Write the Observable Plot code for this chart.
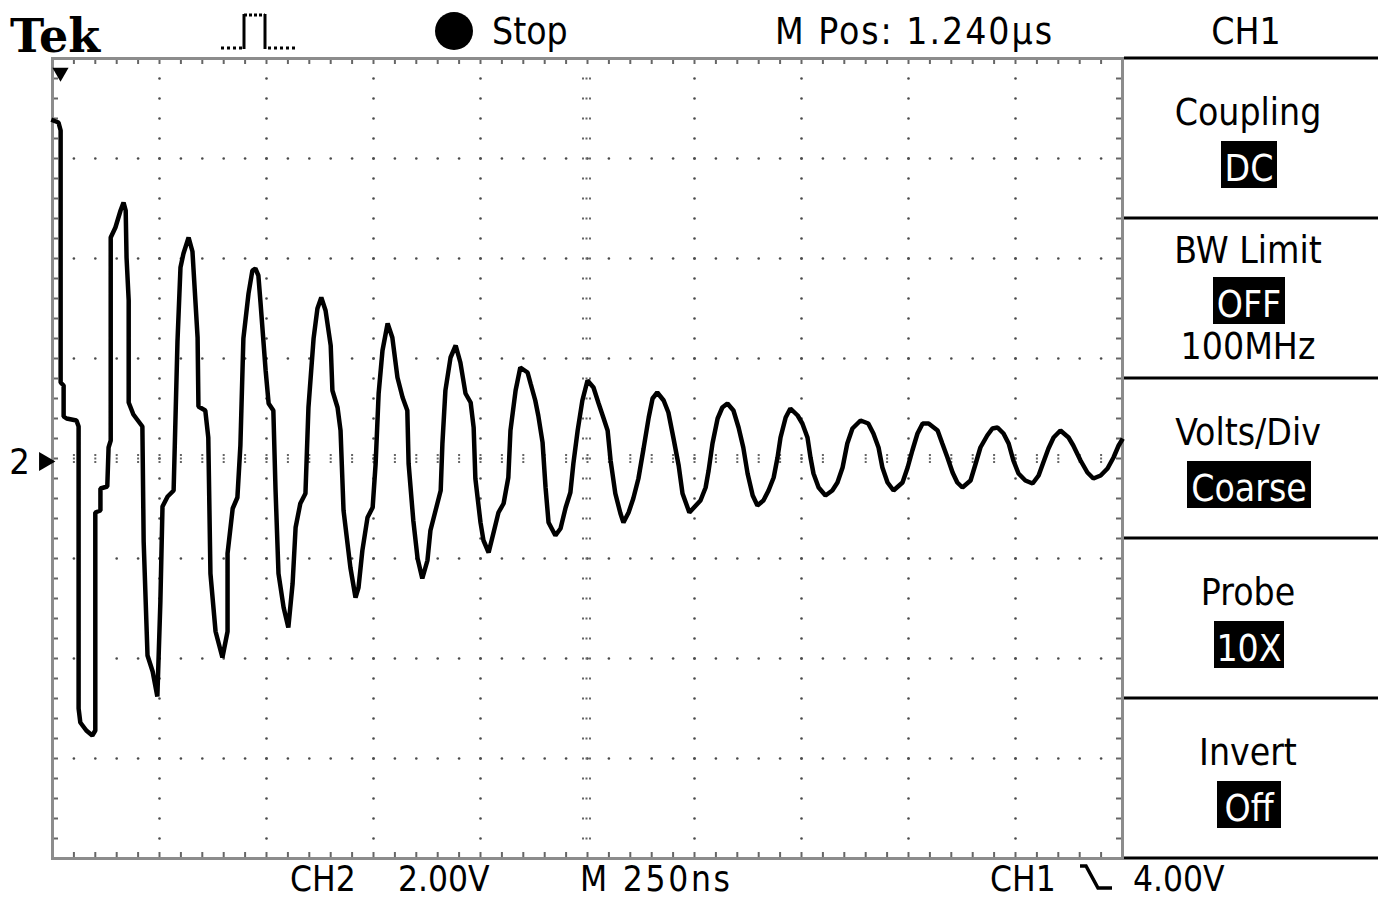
<!DOCTYPE html>
<html><head><meta charset="utf-8">
<script src="https://cdn.jsdelivr.net/npm/d3@7"></script>
<script src="https://cdn.jsdelivr.net/npm/@observablehq/plot@0.6"></script>
<style>
html,body{margin:0;padding:0;background:#fff;}
#wrap{position:relative;width:1378px;height:901px;overflow:hidden;background:#fff;}
#wrap svg{position:absolute;left:0;top:0;}
</style></head><body><div id="wrap"></div>
<script>
// ---- Waveform (time in ns, voltage in V; 250 ns/div, 2 V/div) ----
const timeNs = [2,14,19,19,26,26,33,56,61,61,65,79,93,100,100,112,112,128,131,136,136,147,159,166,171,173,178,178,189,210,213,222,234,245,
252,257,269,283,292,299,306,318,327,339,341,357,364,369,381,397,
409,409,421,432,439,446,458,467,474,481,486,498,505,516,521,528,540,551,
561,568,579,591,598,610,619,628,638,650,654,666,673,680,696,708,
715,724,736,748,755,762,771,783,794,806,818,829,832,843,853,864,
876,883,895,907,911,918,930,942,953,965,977,984,988,1000,1007,1019,
1030,1042,1054,1065,1070,1082,1093,1110,1117,1128,1135,1145,1152,1159,1175,
1187,1199,1210,1217,1227,1238,1250,1264,1276,1287,1297,1304,1315,1327,1334,
1346,1357,1369,1381,1393,1402,1413,1428,1439,1451,1463,1472,1488,
1514,1526,1533,1542,1554,1565,1577,1591,1603,1614,1624,1636,1647,
1661,1673,1685,1694,1701,1713,1724,1741,1752,1764,1771,1778,1790,1806,
1822,1834,1846,1857,1869,1888,1906,1918,1930,1939,1951,1965,
1986,1998,2009,2021,2033,2047,2068,2079,2091,2103,2114,2126,
2145,2157,2168,2184,2196,2208,2222,2234,2245,2257,2273,2290,
2304,2315,2327,2339,2355,2374,2385,2402,2418,2432,2449,2465,2479,2491,2498];
const volts = [6.76,6.72,6.56,1.52,1.46,0.84,0.80,0.76,0.64,-5.00,-5.28,-5.44,-5.54,-5.44,-1.08,-1.04,-0.60,-0.56,0.22,0.36,4.42,4.62,4.96,5.12,4.96,4.02,3.16,1.12,0.88,0.64,-1.66,-3.94,-4.26,-4.76,
-2.88,-0.96,-0.76,-0.64,2.34,3.82,4.10,4.42,4.14,2.42,1.04,0.96,0.42,-2.30,-3.46,-3.98,
-3.46,-1.90,-1.00,-0.78,0.26,2.40,3.30,3.76,3.80,3.66,3.12,1.76,1.10,0.96,-0.60,-2.30,-2.98,-3.38,
-2.50,-1.38,-0.90,-0.70,1.02,2.40,3.00,3.22,2.96,2.26,1.36,1.02,0.56,-1.04,-2.18,-2.78,
-2.58,-1.84,-1.18,-0.98,-0.10,1.30,2.16,2.70,2.42,1.62,1.22,0.96,-0.10,-1.24,-2.00,-2.40,
-2.04,-1.44,-1.04,-0.64,0.30,1.36,2.02,2.26,1.92,1.30,1.12,0.62,-0.40,-1.28,-1.64,-1.88,
-1.50,-1.08,-0.90,-0.38,0.56,1.36,1.82,1.72,1.50,1.16,0.86,0.32,-0.58,-1.28,-1.54,
-1.40,-0.98,-0.68,-0.10,0.56,1.16,1.56,1.42,1.10,0.82,0.56,-0.04,-0.70,-1.10,-1.28,
-1.08,-0.80,-0.40,0.20,0.82,1.20,1.32,1.16,0.92,0.40,-0.14,-0.70,-1.08,
-0.84,-0.58,-0.24,0.30,0.80,1.02,1.10,0.96,0.62,0.22,-0.30,-0.74,-0.94,
-0.84,-0.64,-0.38,0.02,0.42,0.82,1.00,0.86,0.70,0.42,0.02,-0.30,-0.58,-0.74,
-0.64,-0.48,-0.18,0.30,0.60,0.76,0.70,0.50,0.22,-0.18,-0.48,-0.64,
-0.48,-0.18,0.16,0.50,0.70,0.70,0.56,0.30,0.02,-0.28,-0.48,-0.58,
-0.44,-0.10,0.22,0.46,0.60,0.62,0.50,0.30,-0.04,-0.30,-0.44,-0.50,
-0.34,-0.08,0.20,0.42,0.56,0.42,0.26,-0.04,-0.28,-0.40,-0.34,-0.20,0.02,0.26,0.36];

// ---- Screen scale (10 x 8 divisions) ----
const timeDomain = [0, 2500];
const voltDomain = [-8, 8];
const nsPerDiv = 250;
const voltsPerDiv = 2;

// ---- Texts ----
const brand = "Tek";
const runState = "Stop";
const horizPos = "M Pos: 1.240µs";
const menuChannel = "CH1";
const menuTitles = ["Coupling", "BW Limit", "Volts/Div", "Probe", "Invert"];
const menuValues = ["DC", "OFF", "Coarse", "10X", "Off"];
const menuExtra = ["", "100MHz", "", "", ""];
const footerCh2 = ["CH2", "2.00V"];
const footerTime = "M 250ns";
const footerTrig = ["CH1", "4.00V"];
const groundLabel = "2";

const W = 1378, H = 901;
const SCOPE_FONT = "'DejaVu Sans Condensed','Liberation Sans Narrow','DejaVu Sans',sans-serif";

const wave = timeNs.map((t, i) => ({t, v: volts[i]}));
const minorX = d3.range(timeDomain[0], timeDomain[1] + 1e-6, nsPerDiv / 5);
const minorY = d3.range(voltDomain[0], voltDomain[1] + 1e-6, voltsPerDiv / 5);
const majorX = d3.range(timeDomain[0] + nsPerDiv, timeDomain[1] - 1e-6, nsPerDiv);
const majorY = d3.range(voltDomain[0] + voltsPerDiv, voltDomain[1] - 1e-6, voltsPerDiv);
const cX = (timeDomain[0] + timeDomain[1]) / 2, cY = 0;
const pxT = (timeDomain[1] - timeDomain[0]) / 1070; // ns per pixel
const pxV = (voltDomain[1] - voltDomain[0]) / 800;  // V per pixel

const dotsV = majorX.filter(x => x !== cX).flatMap(x => minorY.slice(1, -1).map(y => ({x, y})));
const dotsH = majorY.filter(y => y !== cY).flatMap(y => minorX.slice(1, -1).map(x => ({x, y})));
const tl = 6;

const chart = Plot.plot({
  width: W, height: H,
  marginLeft: 52, marginRight: 256, marginTop: 58, marginBottom: 43,
  x: {domain: timeDomain, axis: null},
  y: {domain: voltDomain, axis: null},
  style: {background: "transparent", overflow: "visible"},
  marks: [
    Plot.dot(dotsV, {x: "x", y: "y", r: 1.3, fill: "#4a4a4a", stroke: null}),
    Plot.dot(dotsH, {x: "x", y: "y", r: 1.3, fill: "#4a4a4a", stroke: null}),
    // center cross marks
    Plot.ruleX(minorX.slice(1, -1), {x: d => d, y1: cY - 5 * pxV, y2: cY + 5 * pxV, stroke: "#666", strokeWidth: 2, strokeDasharray: "2,1.5"}),
    Plot.ruleY(minorY.slice(1, -1), {y: d => d, x1: cX - 5 * pxT, x2: cX + 5 * pxT, stroke: "#666", strokeWidth: 2, strokeDasharray: "2,1.5"}),
    // border minor ticks
    Plot.ruleX(minorX, {x: d => d, y1: voltDomain[1], y2: voltDomain[1] - tl * pxV, stroke: "#666", strokeWidth: 2}),
    Plot.ruleX(minorX, {x: d => d, y1: voltDomain[0], y2: voltDomain[0] + tl * pxV, stroke: "#666", strokeWidth: 2}),
    Plot.ruleY(minorY, {y: d => d, x1: timeDomain[0], x2: timeDomain[0] + tl * pxT, stroke: "#666", strokeWidth: 2}),
    Plot.ruleY(minorY, {y: d => d, x1: timeDomain[1], x2: timeDomain[1] - tl * pxT, stroke: "#666", strokeWidth: 2}),
    Plot.frame({stroke: "#8c8c8c", strokeWidth: 3}),
    // trigger / position marker
    Plot.dot([timeDomain[0]], {x: d => d, y: voltDomain[1], symbol: "triangle", rotate: 180, r: 6, fill: "#000", stroke: null, dx: 8, dy: 14}),
    // ground marker
    Plot.text([cY], {x: timeDomain[0], y: d => d, text: () => groundLabel, dx: -33, dy: 4, fontSize: 36, fontFamily: SCOPE_FONT, fill: "#000"}),
    Plot.dot([cY], {x: timeDomain[0], y: d => d, symbol: "triangle", rotate: 90, r: 7, fill: "#000", stroke: null, dx: -8, dy: 3}),
    Plot.ruleY([cY], {y: d => d, x1: timeDomain[0], x2: timeDomain[0], dx: -18, stroke: "#000", strokeWidth: 4, dy: 3}),
    // waveform
    Plot.line(wave, {x: "t", y: "v", stroke: "#000", strokeWidth: 4.5, strokeLinejoin: "miter", strokeLinecap: "square"})
  ]
});
document.getElementById("wrap").append(chart);

// ---- Overlay: scope readouts and side menu ----
const svg = d3.create("svg").attr("width", W).attr("height", H)
  .attr("font-family", SCOPE_FONT).attr("font-size", 37).attr("fill", "#000");

svg.append("text").attr("x", 10).attr("y", 52)
  .attr("font-family", "'DejaVu Serif','Liberation Serif',serif").attr("font-weight", "bold")
  .attr("font-size", 46).text(brand);

// pulse icon
const pulse = svg.append("g").attr("stroke", "#000").attr("fill", "none").attr("stroke-width", 3);
pulse.append("line").attr("x1", 221).attr("y1", 48).attr("x2", 243).attr("y2", 48).attr("stroke-dasharray", "3,3");
pulse.append("line").attr("x1", 244).attr("y1", 49).attr("x2", 244).attr("y2", 14);
pulse.append("line").attr("x1", 244).attr("y1", 15).attr("x2", 265).attr("y2", 15).attr("stroke-dasharray", "3,2");
pulse.append("line").attr("x1", 265).attr("y1", 14).attr("x2", 265).attr("y2", 49);
pulse.append("line").attr("x1", 268).attr("y1", 48).attr("x2", 297).attr("y2", 48).attr("stroke-dasharray", "3,3");

svg.append("circle").attr("cx", 454).attr("cy", 31).attr("r", 19).attr("fill", "#000");
svg.append("text").attr("x", 492).attr("y", 44).text(runState);
svg.append("text").attr("x", 775).attr("y", 44).attr("textLength", 277).attr("lengthAdjust", "spacing").text(horizPos);
svg.append("text").attr("x", 1246).attr("y", 44).attr("text-anchor", "middle").text(menuChannel);

// side menu separators
[58, 218, 378, 538, 698, 858].forEach(y => {
  svg.append("line").attr("x1", 1124).attr("x2", W).attr("y1", y).attr("y2", y)
    .attr("stroke", "#000").attr("stroke-width", 3);
});

const menuCx = 1248;
const boxW = [56, 72, 124, 70, 64];
menuTitles.forEach((title, i) => {
  const top = 58 + i * 160;
  const hasExtra = menuExtra[i] !== "";
  const tb = hasExtra ? top + 45 : top + 67;
  svg.append("text").attr("x", menuCx).attr("y", tb).attr("text-anchor", "middle").text(title);
  const by = hasExtra ? top + 59 : top + 83;
  svg.append("rect").attr("x", menuCx + 1 - boxW[i] / 2).attr("y", by).attr("width", boxW[i]).attr("height", 47).attr("fill", "#000");
  svg.append("text").attr("x", menuCx + 1).attr("y", by + 40).attr("text-anchor", "middle").attr("fill", "#fff").text(menuValues[i]);
  if (hasExtra) svg.append("text").attr("x", menuCx).attr("y", top + 141).attr("text-anchor", "middle").text(menuExtra[i]);
});

// footer
const foot = svg.append("g").attr("font-size", 35);
foot.append("text").attr("x", 290).attr("y", 891).text(footerCh2[0]);
foot.append("text").attr("x", 398).attr("y", 891).text(footerCh2[1]);
foot.append("text").attr("x", 580).attr("y", 891).attr("textLength", 150).attr("lengthAdjust", "spacing").text(footerTime);
foot.append("text").attr("x", 990).attr("y", 891).text(footerTrig[0]);
svg.append("polyline").attr("points", "1080,866 1086,866 1098,888 1112,888")
  .attr("fill", "none").attr("stroke", "#000").attr("stroke-width", 3.5);
foot.append("text").attr("x", 1133).attr("y", 891).text(footerTrig[1]);

document.getElementById("wrap").append(svg.node());
</script></body></html>
